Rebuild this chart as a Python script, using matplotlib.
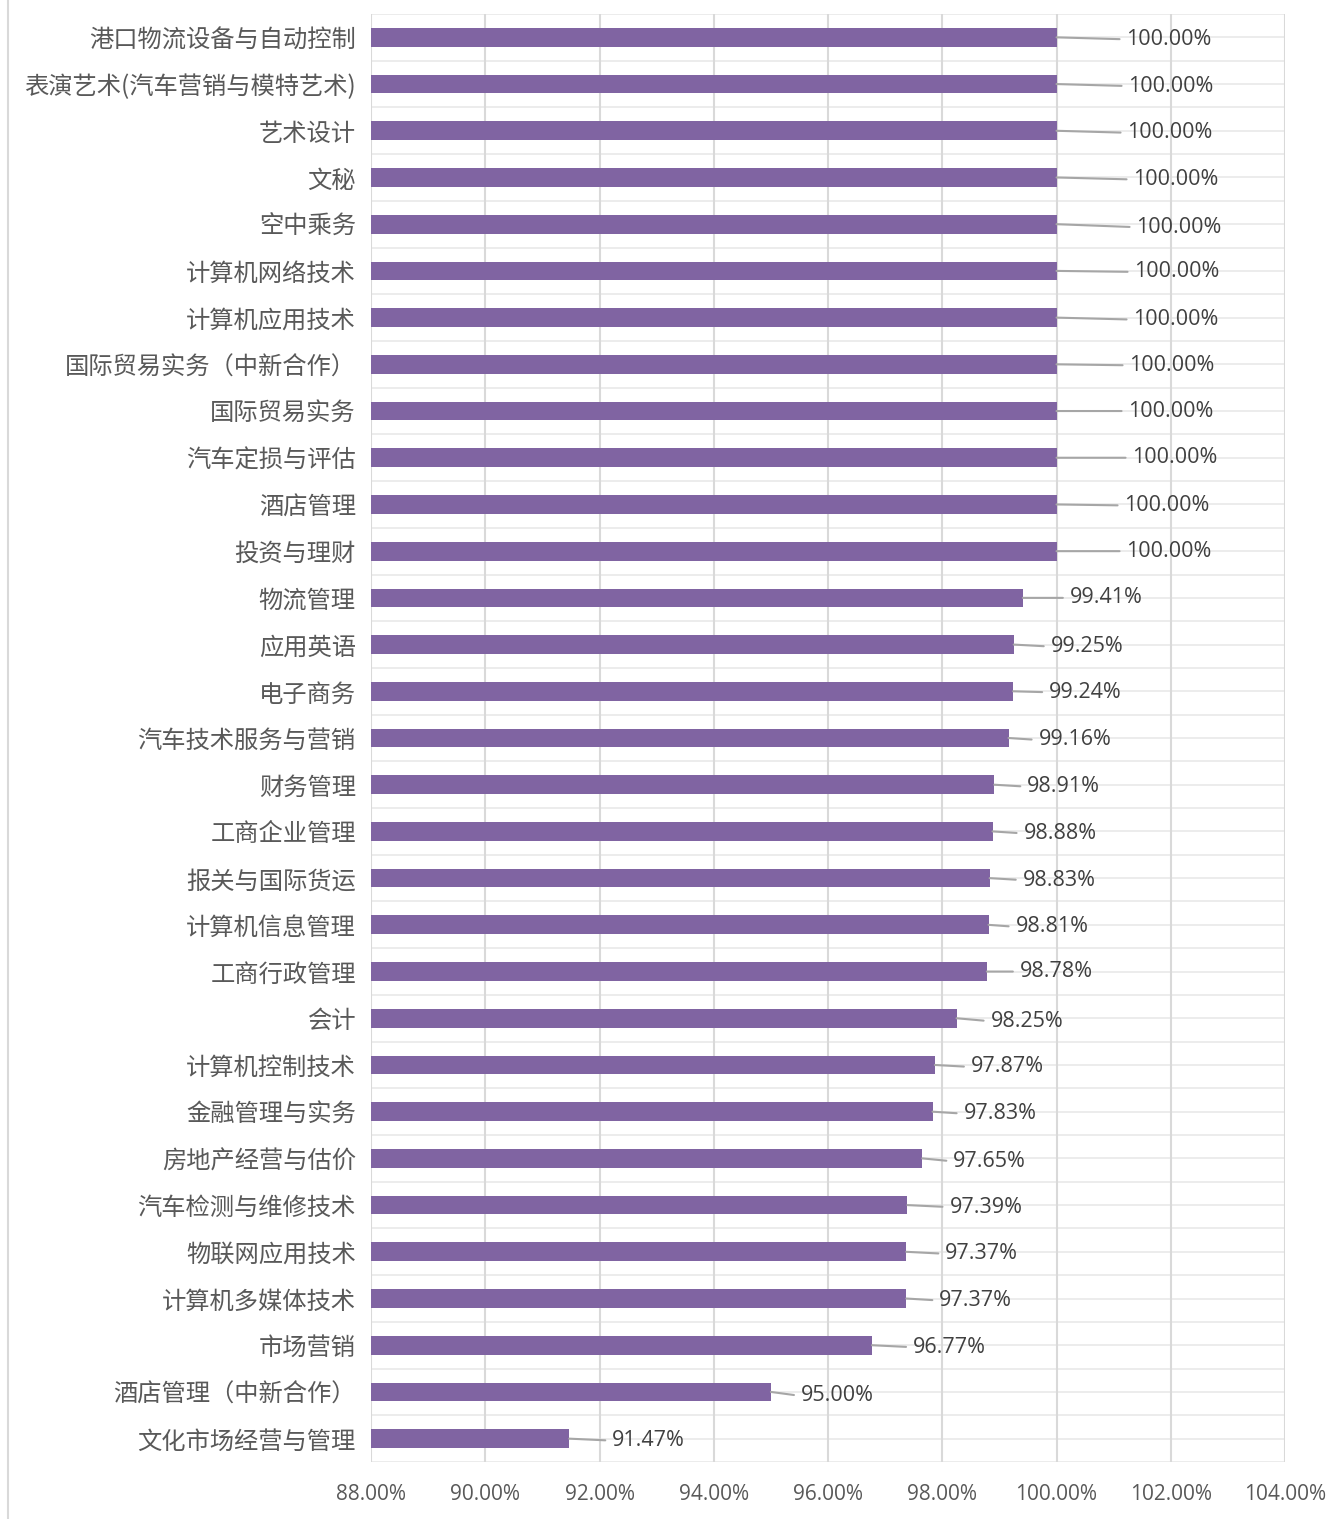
import matplotlib
matplotlib.use("Agg")
import matplotlib.pyplot as plt
from matplotlib.lines import Line2D
import numpy as np

plt.rcParams['font.family'] = ['Noto Sans CJK SC', 'DejaVu Sans']

categories = [
    "港口物流设备与自动控制", "表演艺术(汽车营销与模特艺术)", "艺术设计", "文秘", "空中乘务",
    "计算机网络技术", "计算机应用技术", "国际贸易实务（中新合作）", "国际贸易实务", "汽车定损与评估",
    "酒店管理", "投资与理财", "物流管理", "应用英语", "电子商务",
    "汽车技术服务与营销", "财务管理", "工商企业管理", "报关与国际货运", "计算机信息管理",
    "工商行政管理", "会计", "计算机控制技术", "金融管理与实务", "房地产经营与估价",
    "汽车检测与维修技术", "物联网应用技术", "计算机多媒体技术", "市场营销", "酒店管理（中新合作）",
    "文化市场经营与管理",
]
values = [
    100.00, 100.00, 100.00, 100.00, 100.00,
    100.00, 100.00, 100.00, 100.00, 100.00,
    100.00, 100.00, 99.41, 99.25, 99.24,
    99.16, 98.91, 98.88, 98.83, 98.81,
    98.78, 98.25, 97.87, 97.83, 97.65,
    97.39, 97.37, 97.37, 96.77, 95.00,
    91.47,
]
x_ticks = [88, 90, 92, 94, 96, 98, 100, 102, 104]

# label placement (pixel offsets of label left edge from bar end, and vertical shift)
label_dx_px = [70, 72, 71, 77, 80, 78, 77, 73, 72, 76, 68, 70, 47, 37, 36,
               30, 33, 31, 33, 27, 33, 34, 36, 31, 31, 42, 39, 33, 41, 30, 43]
label_dy_px = [0, 0, 0, 0, 1, -1, 0, -1, -2, -2, -1, -2, -2, 0, -1,
               0, 0, 0, 0, 0, -2, 1, 0, 0, 1, 0, 0, 0, 0, 2, 0]

W, H, DPI = 1331, 1519, 100
fig = plt.figure(figsize=(W / DPI, H / DPI), dpi=DPI)
ax = fig.add_axes([371 / W, 1 - 1462 / H, (1285 - 371) / W, (1462 - 14) / H])

bar_color = "#8064A2"
grid_color = "#D9D9D9"
text_color = "#595959"
label_color = "#404040"

y = np.arange(len(categories))
ax.barh(y, values, height=0.4, color=bar_color, zorder=3)

ax.set_xlim(x_ticks[0], x_ticks[-1])
ax.set_ylim(len(categories) - 0.5, -0.5)
ax.set_xticks(x_ticks)
ax.set_xticklabels([f"{t:.2f}%" for t in x_ticks], fontsize=15, color=text_color,
                   family=['Open Sans', 'DejaVu Sans'])
ax.set_yticks(y)
ax.set_yticklabels(categories, fontsize=17.5, color=text_color, fontweight='light')
ax.tick_params(axis='both', length=0)
ax.tick_params(axis='x', pad=16)
ax.tick_params(axis='y', pad=11)

for s in ax.spines.values():
    s.set_visible(False)

ax.grid(axis='x', color=grid_color, linewidth=1.5, zorder=0)
for k in np.arange(-0.5, len(categories), 0.5):
    ax.axhline(k, color="#EBEBEB", linewidth=1.3, zorder=0)

px2pt = 72 / DPI
for i, (v, dx, dy) in enumerate(zip(values, label_dx_px, label_dy_px)):
    ax.annotate(f"{v:.2f}%", xy=(v, i), xytext=(dx * px2pt, -(dy + 2) * px2pt),
                textcoords='offset points', ha='left', va='center',
                fontsize=15.5, color=label_color, family=['Open Sans', 'DejaVu Sans'],
                zorder=4,
                arrowprops=dict(arrowstyle='-', color="#A6A6A6", lw=1.5,
                                shrinkA=3, shrinkB=0, relpos=(0, 0.5)))

fig.add_artist(Line2D([8 / W, 8 / W], [0, 1], color=grid_color, linewidth=1.5,
                      transform=fig.transFigure))

fig.savefig("out.png", dpi=DPI)
